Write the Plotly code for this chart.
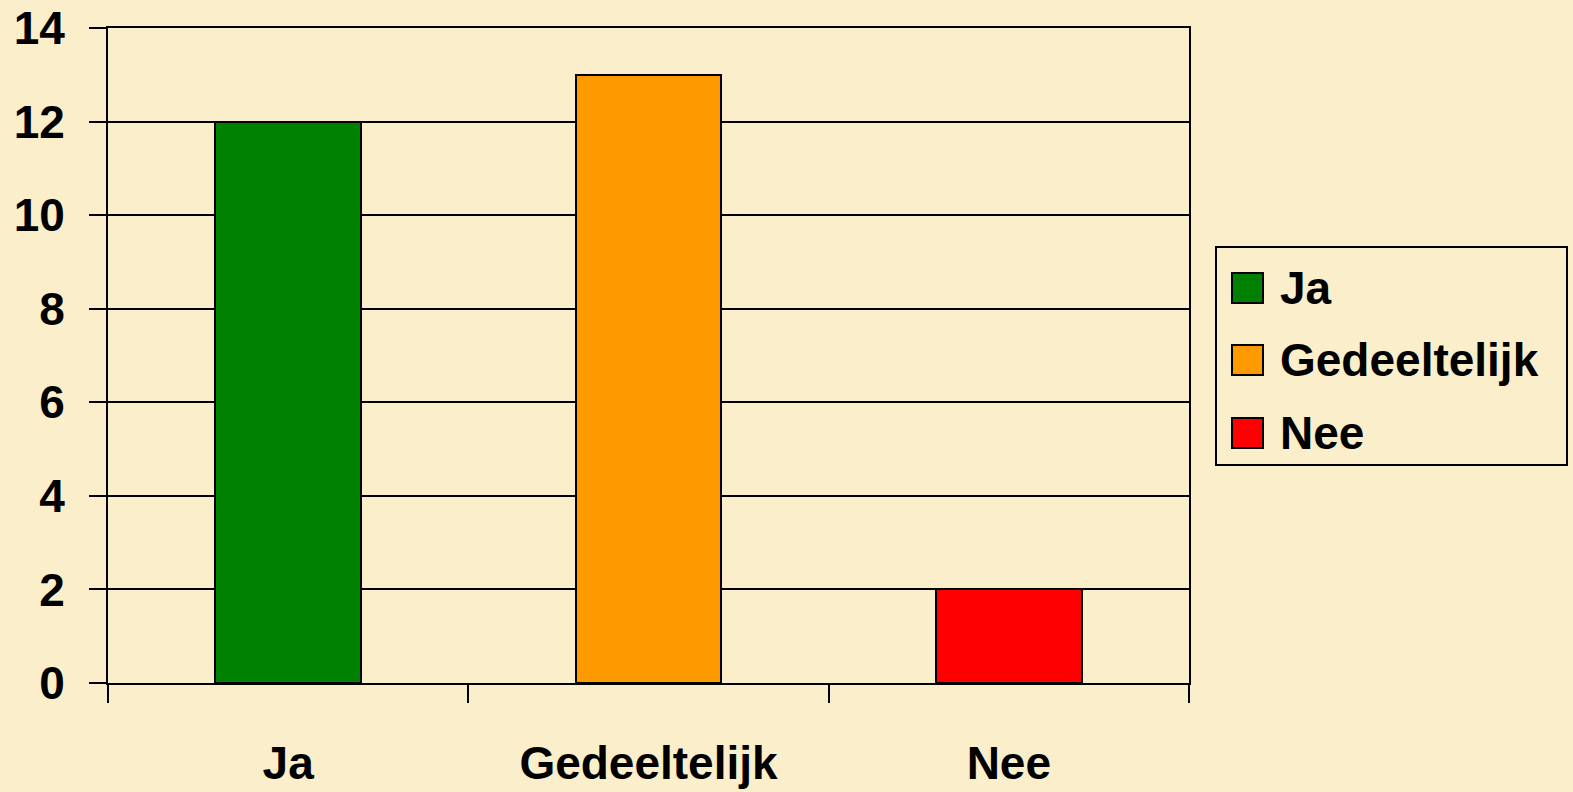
import plotly.graph_objects as go

# data
categories = ['Ja', 'Gedeeltelijk', 'Nee']
values = [12, 13, 2]
colors = ['#008000', '#FF9900', '#FF0000']

BG = '#FAEFCA'
W, H = 1573, 792
L, R, T, B = 108, 384, 28, 109
FONT = dict(family='Liberation Sans, Arial, sans-serif', size=46, color='black', weight='bold')


def px2paper(x, y):
    # pixel position -> paper coords of the plot area
    pw = W - L - R
    ph = H - T - B
    return (x - L) / pw, (H - B - y) / ph


fig = go.Figure()
fig.add_trace(go.Bar(
    x=categories, y=values,
    marker=dict(color=colors, line=dict(color='black', width=2)),
    width=0.405, showlegend=False, hoverinfo='x+y',
))

# legend box drawn by hand so that swatches match the original size
bx0, by0 = px2paper(1216, 465)
bx1, by1 = px2paper(1567, 247)
fig.add_shape(type='rect', xref='paper', yref='paper', x0=bx0, y0=by0, x1=bx1, y1=by1,
              line=dict(color='black', width=2), fillcolor=BG, layer='above')
item_y = [288, 360, 433]
for cat, col, yy in zip(categories, colors, item_y):
    sx0, sy0 = px2paper(1232, yy + 15)
    sx1, sy1 = px2paper(1263, yy - 15)
    fig.add_shape(type='rect', xref='paper', yref='paper', x0=sx0, y0=sy0, x1=sx1, y1=sy1,
                  line=dict(color='black', width=2), fillcolor=col, layer='above')
    tx, ty = px2paper(1278, yy)
    fig.add_annotation(x=tx, y=ty, xref='paper', yref='paper', text=cat, showarrow=False,
                       xanchor='left', yanchor='middle', font=FONT)

fig.update_layout(
    width=W, height=H,
    margin=dict(l=L, r=R, t=T, b=B),
    paper_bgcolor=BG, plot_bgcolor=BG,
    font=FONT,
    bargap=0,
)
fig.update_xaxes(
    type='category', range=[-0.5, 2.5], automargin=False,
    showline=True, linecolor='black', linewidth=2, mirror=True,
    ticks='outside', tickson='boundaries', ticklen=18, tickwidth=2, tickcolor='black',
    showgrid=False, ticklabelstandoff=39,
)
fig.update_yaxes(
    range=[0, 14], dtick=2, automargin=False,
    showline=True, linecolor='black', linewidth=2, mirror=True,
    ticks='outside', ticklen=17, tickwidth=2, tickcolor='black',
    showgrid=True, gridcolor='black', gridwidth=2, zeroline=False,
    ticklabelstandoff=15,
)

fig.write_html('out.html', config={'displayModeBar': False},
               post_script="document.body.style.margin='0';")
